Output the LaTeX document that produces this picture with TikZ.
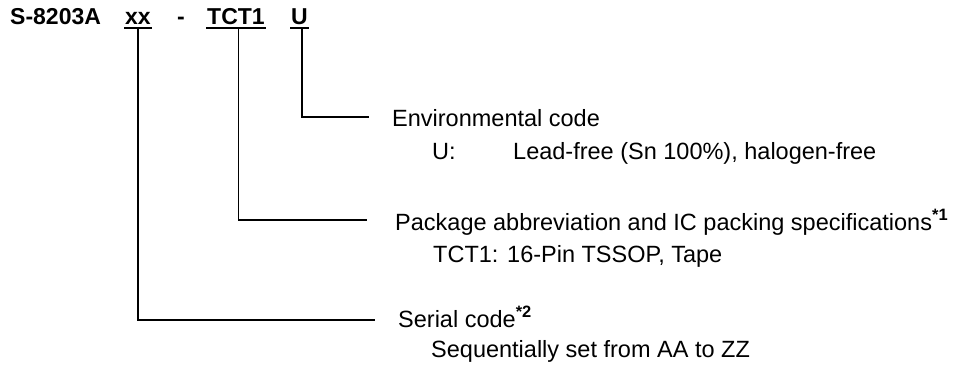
\documentclass[tikz,border=0pt]{standalone}
\usepackage{fontspec}
\setmainfont{Liberation Sans}
\usetikzlibrary{calc}
\tikzstyle{codepart}=[anchor=base west,inner sep=0pt,font=\fontsize{23}{27}\selectfont\bfseries]
\tikzstyle{desc}=[anchor=base west,inner sep=0pt,font=\fontsize{23.5}{28}\selectfont]
\tikzstyle{leader} = [draw,line width=1.5pt]
\tikzstyle{uline} = [draw,line width=2pt]

\begin{document}
\begin{tikzpicture}[x=1pt,y=-1pt]
    \useasboundingbox (0,0) rectangle (957,374);

    % product code
     \foreach \x/\name/\txt in {10/pn/S-8203A, 125/xx/xx, 177/dash/-, 207/tct/TCT1, 291/u/U}
        \node[codepart] (\name) at (\x,25) {\txt};

    \foreach \name in {xx, tct, u}
        \path[uline] ([xshift=-1pt,yshift=-3pt]\name.base west) -- ([xshift=1pt,yshift=-3pt]\name.base east);

    % free ends of the leaders
    \foreach \x/\y/\name in {369/117/uend, 367/220/tctend, 375/320/xxend}
        \coordinate (\name) at (\x,\y);

    % explanations
     \foreach \x/\y/\name/\txt in {392/127/env/{Environmental code}, 432/160/envkey/{U:},
                                   513/160/envval/{Lead-free (Sn 100\%), halogen-free},
                                   395/230/pkg/{Package abbreviation and IC packing specifications\textsuperscript{\textbf{*1}}},
                                   433/262/pkgval/{TCT1: 16-Pin TSSOP, Tape},
                                   398/327/ser/{Serial code\textsuperscript{\textbf{*2}}},
                                   431/357/serval/{Sequentially set from AA to ZZ}}
        \node[desc] (\name) at (\x,\y) {\txt};

    \foreach \source/ \dest /\dx in {u/uend/2.5, tct/tctend/2.5, xx/xxend/0}
        \path[leader] ([xshift=\dx pt,yshift=-3pt]\source.base) |- (\dest);

\end{tikzpicture}
\end{document}
